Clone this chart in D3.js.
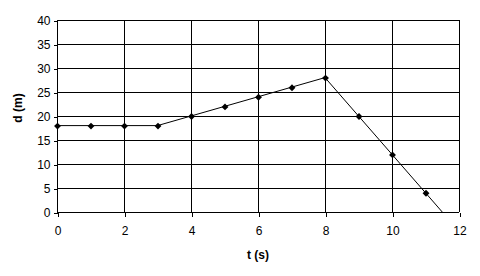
<!DOCTYPE html>
<html><head><meta charset="utf-8">
<script src="https://cdn.jsdelivr.net/npm/d3@7"></script>
<style>body{margin:0;background:#fff}svg{display:block}</style>
</head><body>
<svg id="c" width="480" height="276"></svg>
<script>
const times = [0,1,2,3,4,5,6,7,8,9,10,11,12];
const dist  = [18,18,18,18,20,22,24,26,28,20,12,4,-4];
const xTicks = [0,2,4,6,8,10,12];
const yTicks = [0,5,10,15,20,25,30,35,40];

const svg = d3.select("#c");
const L=57, R=459, T=20, B=212;
const x = d3.scaleLinear().domain([0,12]).range([L,R]);
const y = d3.scaleLinear().domain([0,40]).range([B,T]);
const font = "Arial, 'Liberation Sans', sans-serif";

svg.append("defs").append("clipPath").attr("id","clip")
  .append("rect").attr("x",L-6).attr("y",T-6).attr("width",R-L+12).attr("height",B-T+6.5);

// gridlines
const g = svg.append("g").attr("shape-rendering","crispEdges");
g.selectAll(".hy").data(yTicks).join("line")
  .attr("x1",L).attr("x2",R).attr("y1",d=>Math.round(y(d))+0.5).attr("y2",d=>Math.round(y(d))+0.5)
  .attr("stroke","#000");
g.selectAll(".vx").data(xTicks).join("line")
  .attr("y1",T).attr("y2",B).attr("x1",d=>Math.round(x(d))+0.5).attr("x2",d=>Math.round(x(d))+0.5)
  .attr("stroke","#000");

// axes
const ya = svg.append("g").attr("transform",`translate(${L+0.5},0.5)`)
  .call(d3.axisLeft(y).tickValues(yTicks).tickSize(4).tickPadding(3));
const xa = svg.append("g").attr("transform",`translate(0.5,${B+0.5})`)
  .call(d3.axisBottom(x).tickValues(xTicks).tickSize(4).tickPadding(10));
[ya,xa].forEach(a=>{
  a.select(".domain").remove();
  a.selectAll("line").attr("stroke","#000").attr("shape-rendering","crispEdges");
  a.selectAll("text").attr("font-family",font).attr("font-size",12).attr("fill","#000");
});

// line
const plot = svg.append("g").attr("clip-path","url(#clip)");
const pts = times.map((t,i)=>[t,dist[i]]);
plot.append("path").datum(pts)
  .attr("d", d3.line().x(d=>x(d[0])).y(d=>y(d[1])))
  .attr("fill","none").attr("stroke","#000").attr("stroke-width",1);
const sym = d3.symbol().type(d3.symbolDiamond2).size(30);
plot.selectAll(".m").data(pts.filter(d=>d[1]>=0)).join("path")
  .attr("d",sym).attr("transform",d=>`translate(${x(d[0])+0.5},${y(d[1])+0.5})`)
  .attr("fill","#000");

// titles
svg.append("text").attr("x",(L+R)/2).attr("y",259).attr("text-anchor","middle")
  .attr("font-family",font).attr("font-size",12).attr("font-weight","bold").text("t (s)");
svg.append("text").attr("transform",`translate(22,108) rotate(-90)`).attr("text-anchor","middle")
  .attr("font-family",font).attr("font-size",12).attr("font-weight","bold").text("d (m)");
</script>
</body></html>
